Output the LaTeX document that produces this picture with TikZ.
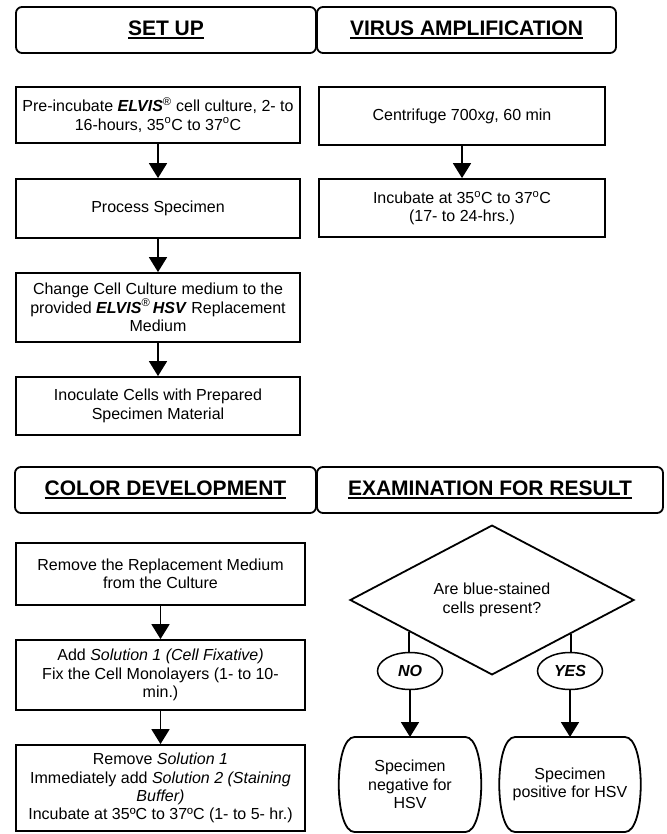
\documentclass[tikz,border=0pt]{standalone}
\usepackage{fontspec}
\setmainfont{Liberation Sans}
\usepackage{tikz}
\usetikzlibrary{arrows.meta,calc,positioning,shapes.geometric,shapes.misc}

\newsavebox{\hdbox}
\newcommand{\hdline}[1]{\sbox{\hdbox}{#1}\rlap{\rule[-3.4pt]{\wd\hdbox}{1.7pt}}\usebox{\hdbox}}
\newcommand{\elvis}{\textbf{\textit{ELVIS}}\textsuperscript{\textregistered}}
\newcommand{\dg}{\textsuperscript{o}}

\begin{document}
\begin{tikzpicture}[x=1pt, y=-1pt,
  every node/.style={font=\fontsize{16}{18.3}\selectfont, align=center},
  head/.style={draw, line width=1.8pt, rounded corners=6pt, minimum height=46pt,
    font=\fontsize{21}{24}\selectfont\bfseries},
  stepbox/.style={draw, line width=1.8pt, inner sep=2pt},
  answer/.style={draw, ellipse, line width=1.5pt, minimum width=65pt, minimum height=37pt, inner sep=0pt},
  result/.style={minimum width=142pt, minimum height=95pt, inner sep=1pt, outer sep=0pt},
  wire/.style={line width=1.8pt},
  flow/.style={line width=1.8pt, -{Triangle[length=15pt,width=18pt]}}]

  % Page
  \fill[white] (0,0) rectangle (666,834);
  \useasboundingbox (0,0) rectangle (666,834);

  % Headers (top)
  \node[head, minimum width=300pt] (setup) at (166,30) {\hdline{SET UP}};
  \node[head, minimum width=299pt] (virus) at (466.5,30) {\hdline{VIRUS AMPLIFICATION}};

  % Set up
  \node[stepbox, minimum width=284pt, minimum height=56pt] (preinc) at (158,115)
    {Pre-incubate \elvis{} cell culture, 2- to\\16-hours, 35\dg C to 37\dg C};
  \node[stepbox, minimum width=284pt, minimum height=59pt] (proc) at (158,208.5)
    {Process Specimen};
  \node[stepbox, minimum width=284pt, minimum height=69pt] (change) at (158,307.5)
    {Change Cell Culture medium to the\\provided \elvis{}\,\textbf{\textit{HSV}} Replacement\\Medium};
  \node[stepbox, minimum width=284pt, minimum height=58pt] (inoc) at (158,406)
    {Inoculate Cells with Prepared\\Specimen Material};
  \draw[flow] (preinc) -- (proc);
  \draw[flow] (proc) -- (change);
  \draw[flow] (change) -- (inoc);

  % Virus amplification
  \node[stepbox, minimum width=286pt, minimum height=58pt] (centri) at (462,116)
    {Centrifuge 700x\textit{g}, 60 min};
  \node[stepbox, minimum width=286pt, minimum height=58pt] (incub) at (462,208)
    {Incubate at 35\dg C to 37\dg C\\(17- to 24-hrs.)};
  \draw[flow] (centri) -- (incub);

  % Headers (bottom)
  \node[head, minimum width=301pt] (colour) at (165.5,490) {\hdline{COLOR DEVELOPMENT}};
  \node[head, minimum width=346pt] (exam) at (490,490) {\hdline{EXAMINATION FOR RESULT}};

  % Color development
  \node[stepbox, minimum width=289pt, minimum height=62pt] (remove) at (160.5,574)
    {Remove the Replacement Medium\\from the Culture};
  \node[stepbox, minimum width=289pt, minimum height=70pt] (fix) at (160.5,675)
    {Add \textit{Solution 1 (Cell Fixative)}\\Fix the Cell Monolayers (1- to 10-\\min.)};
  \node[stepbox, minimum width=289pt, minimum height=86pt] (stain) at (160.5,788)
    {Remove \textit{Solution 1}\\Immediately add \textit{Solution 2 (Staining}\\\textit{Buffer)}\\Incubate at 35ºC to 37ºC (1- to 5- hr.)};
  \draw[flow] (remove) -- (fix);
  \draw[flow] (fix) -- (stain);

  % Examination
  \node[draw, diamond, line width=1.8pt, minimum width=284pt, minimum height=106pt, inner sep=0pt]
    (cells) at (492,600) {Are blue-stained\\cells present?};
  \coordinate (noc) at ($(cells.west)!0.42!(cells.south)$);
  \coordinate (yesc) at ($(cells.east)!0.45!(cells.south)$);
  \node[answer] (no) at (410,671) {\textbf{\textit{NO}}};
  \node[answer] (yes) at (570,671) {\textbf{\textit{YES}}};
  \draw[wire] (noc) -- (noc |- no.north);
  \draw[wire] (yesc) -- (yesc |- yes.north);

  % Results
  \node[result, minimum width=143pt] (neg) at (410,784.5) {Specimen\\negative for\\HSV};
  \node[result] (pos) at (570,784.5) {Specimen\\positive for HSV};
  \foreach \r in {neg,pos}
    \draw[wire] ([xshift=16pt]\r.north west) -- ([xshift=-16pt]\r.north east)
      .. controls ([xshift=5pt]\r.north east) and ([xshift=5pt]\r.south east) .. ([xshift=-16pt]\r.south east)
      -- ([xshift=16pt]\r.south west)
      .. controls ([xshift=-5pt]\r.south west) and ([xshift=-5pt]\r.north west) .. cycle;
  \draw[flow] (no) -- (neg);
  \draw[flow] (yes) -- (pos);

\end{tikzpicture}
\end{document}
